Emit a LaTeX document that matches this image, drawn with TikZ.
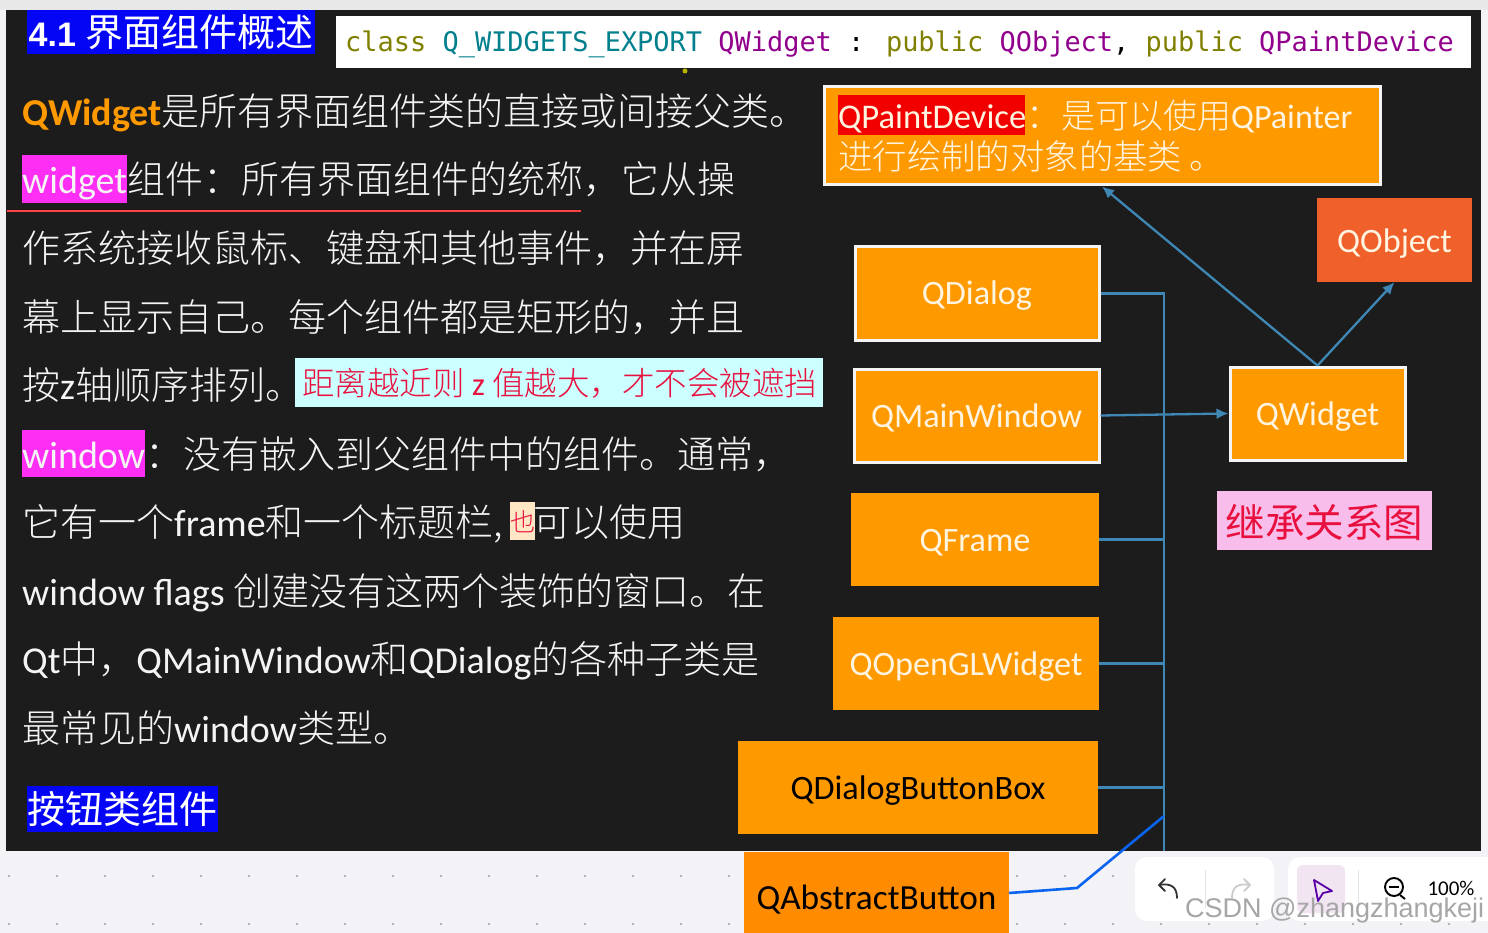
\documentclass[tikz,border=0pt]{standalone}
\usepackage{fontspec}
\setmainfont{Carlito}
\newfontfamily\cjk[UprightFont=* Light,BoldFont=* Bold]{Noto Sans CJK SC}
\newfontfamily\cjkr{Noto Sans CJK SC}
\newfontfamily\codef{DejaVu Sans Mono}
\newfontfamily\headf{Liberation Sans}
\newcommand{\fs}[1]{\fontsize{#1}{#1}\selectfont}
\newcommand{\zh}[1]{{\cjk #1}}
\definecolor{panel}{HTML}{1C1C1C}
\definecolor{orangebox}{HTML}{FF9900}
\definecolor{orangedark}{HTML}{FF8C00}
\definecolor{objbox}{HTML}{F0602B}
\definecolor{linkblue}{HTML}{3F88B5}
\definecolor{vivid}{HTML}{0A64F0}
\definecolor{softw}{HTML}{F4F4F4}
\definecolor{cream}{HTML}{FFF4E0}
\definecolor{crim}{HTML}{E8103E}
\definecolor{magentahl}{HTML}{FF2EF5}
\definecolor{bluehl}{HTML}{0505F5}
\definecolor{olivec}{HTML}{808000}
\definecolor{tealc}{HTML}{007F8C}
\definecolor{purplec}{HTML}{90008C}
\definecolor{pagebg}{HTML}{F3F3F7}
\definecolor{cyanhl}{HTML}{CCFFFF}
\definecolor{peachhl}{HTML}{FFE6C4}
\definecolor{legendbg}{HTML}{F8BDEB}
\tikzset{
  line1/.style={anchor=base west,inner sep=0pt,text=softw,font=\fs{38}},
  boxbase/.style={inner sep=0pt,fill=orangebox,font=\fs{34.2},text height=30pt,text depth=7pt},
  whitebox/.style={boxbase,draw=softw,line width=3pt,text=cream},
  plainbox/.style={boxbase,text=cream},
  blackbox/.style={boxbase,text=black},
  link/.style={draw=linkblue,line width=2.3pt},
  linkarrow/.style={link,-{Latex[length=12pt,width=11pt]}},
  tool/.style={fill=white,rounded corners=12pt,draw=none},
  icon/.style={draw=black!80,line width=1.8pt,line cap=round,line join=round},
}
\usetikzlibrary{arrows.meta}
\begin{document}
\begin{tikzpicture}[x=1pt,y=-1pt]
\useasboundingbox (0,0) rectangle (1488,933);
% page
\fill[pagebg] (0,0) rectangle (1488,933);
\fill[black!9] (0,0) rectangle (1488,10);
\foreach \x in {9,57,...,1488}{\foreach \y in {876,924}{\fill[black!38] (\x,\y) circle (1.1);}}
\fill[panel] (6,10) rectangle (1481,851);
% title and code
\node[fill=bluehl,text=white,inner sep=0pt,minimum width=288pt,minimum height=44pt,font=\fs{37}] (title) at (171,32) {\headf\bfseries\fs{34}4.1 \cjkr\mdseries\fs{38}界面组件概述};
\node[fill=white,inner sep=0pt,minimum width=1135pt,minimum height=52pt] (codebox) at (903.5,42) {};
\node[anchor=base west,inner sep=0pt,font=\codef\fs{26.95}] (code) at (345,52) {\textcolor{olivec}{class} \textcolor{tealc}{Q\_WIDGETS\_EXPORT} \textcolor{purplec}{QWidget} \textcolor{black}{:} \textcolor{olivec}{public} \textcolor{purplec}{QObject}\textcolor{black}{,} \textcolor{olivec}{public} \textcolor{purplec}{QPaintDevice}};
\fill[olive!60!yellow] (685,71) circle (2.5);
% highlights
\fill[magentahl] (22,155) rectangle (127,203);
\fill[magentahl] (22,430) rectangle (145,477);
\fill[cyanhl] (295,358) rectangle (823,407);
\fill[peachhl] (510,502) rectangle (535,540);
\draw[draw=red!65!pink,line width=2.4pt] (7,211) -- (581,211);
% text lines
\node[line1] (t1) at (22,126) {\textcolor{orangebox}{\bfseries QWidget}\zh{是所有界面组件类的直接或间接父类。}};
\node[line1] (t2) at (22,194) {widget\zh{组件：所有界面组件的统称，它从操}};
\node[line1] (t3) at (22,263) {\zh{作系统接收鼠标、键盘和其他事件，并在屏}};
\node[line1] (t4) at (22,331) {\zh{幕上显示自己。每个组件都是矩形的，并且}};
\node[line1] (t5) at (22,399) {\zh{按}z\zh{轴顺序排列。}};
\node[anchor=base west,inner sep=0pt,text=crim,font=\fs{32.5}] (t5b) at (302,395) {\zh{距离越近则} z \zh{值越大，才不会被遮挡}};
\node[line1] (t6) at (22,468) {window\zh{：没有嵌入到父组件中的组件。通常，}};
\node[line1] (t7) at (22,536) {\zh{它有一个}frame\zh{和一个标题栏,}};
\node[anchor=base west,inner sep=0pt,text=crim,font=\fs{25}] (t7b) at (510,531) {\zh{也}};
\node[line1] (t7c) at (533,536) {\zh{可以使用}};
\node[line1] (t8) at (22,605) {window flags \zh{创建没有这两个装饰的窗口。在}};
\node[line1] (t9) at (22,673) {Qt\zh{中，}QMainWindow\zh{和}QDialog\zh{的各种子类是}};
\node[line1] (t10) at (22,742) {\zh{最常见的}window\zh{类型。}};
\node[fill=bluehl,text=white,inner sep=0pt,minimum width=191pt,minimum height=46pt,font=\cjkr\fs{38}] (btn) at (122.5,809) {按钮类组件};
% boxes
\node[whitebox,minimum width=556pt,minimum height=98pt] (qpd) at (1102,136) {};
\fill[red!95!black] (838,95) rectangle (1025,135);
\node[anchor=base west,inner sep=0pt,text=cream,font=\fs{34.6}] (qpdt1) at (838,129) {QPaintDevice\zh{：}};
\node[anchor=base west,inner sep=0pt,text=cream,font=\fs{34}] (qpdt1b) at (1061,129) {\zh{是可以使用}QPainter};
\node[anchor=base west,inner sep=0pt,text=cream,font=\cjk\fs{34.4}] (qpdt2) at (838,170) {进行绘制的对象的基类 。};
\node[whitebox,minimum width=244pt,minimum height=93pt] (qdialog) at (977,293.5) {QDialog};
\node[whitebox,minimum width=245pt,minimum height=93pt] (qmain) at (976.5,415.5) {QMainWindow};
\node[plainbox,minimum width=248pt,minimum height=93pt] (qframe) at (975,539.5) {QFrame};
\node[plainbox,minimum width=266pt,minimum height=93pt] (qgl) at (966,663.5) {QOpenGLWidget};
\node[blackbox,minimum width=360pt,minimum height=93pt] (qdbb) at (918,787.5) {QDialogButtonBox};
\node[blackbox,fill=orangedark,minimum width=265pt,minimum height=81pt,font=\fs{35.3},text height=40pt,text depth=7pt] (qab) at (876.5,892.5) {QAbstractButton};
\node[whitebox,minimum width=175pt,minimum height=93pt] (qwidget) at (1317.5,413.5) {QWidget};
\node[plainbox,fill=objbox,minimum width=155pt,minimum height=84pt,text height=32pt] (qobject) at (1394.5,240) {QObject};
\node[fill=legendbg,text=crim,inner sep=0pt,minimum width=215pt,minimum height=59pt,font=\cjkr\fs{39.5},text height=38pt,text depth=4pt] (legend) at (1324.5,520.5) {继承关系图};
% connectors
\coordinate (trunkend) at (1164,851);
\coordinate (trunktop) at (qdialog.east -| trunkend);
\coordinate (bend) at (1077,888);
\coordinate (hit) at (1164,816);
\draw[link] (qdialog.east) -- (trunktop) -- (trunkend);
\draw[linkarrow] (qmain.east) -- (qwidget.west);
\draw[link] (qframe.east) -- (qframe.east -| trunkend);
\draw[link] (qgl.east) -- (qgl.east -| trunkend);
\draw[link] (qdbb.east) -- (qdbb.east -| trunkend);
\draw[draw=vivid,line width=2.6pt] (qab.east |- 0,893) -- (bend) -- (hit);
\draw[linkarrow] (qwidget.north) -- (qpd.south);
\draw[linkarrow] (qwidget.north) -- (qobject.south);
% toolbar
\fill[tool] (1135,857) rectangle (1274,921);
\fill[tool] (1288,857) rectangle (1500,921);
\draw[black!10] (1205,870) -- (1205,908);
\draw[black!10] (1358,870) -- (1358,908);
\fill[violet!10,rounded corners=6pt] (1297,865) rectangle (1345,913);
\draw[icon] (1177,898) .. controls (1177,886) and (1170,883) .. (1159,885);
\draw[icon] (1165,879) -- (1159,885) -- (1165,891);
\draw[icon,draw=black!20] (1232,898) .. controls (1232,886) and (1239,883) .. (1250,885);
\draw[icon,draw=black!20] (1244,879) -- (1250,885) -- (1244,891);
\draw[draw=violet!70!blue,line width=1.8pt,line join=round] (1314,880) -- (1332,891) -- (1323,893) -- (1318,901) -- cycle;
\draw[black,line width=1.9pt] (1394,887) circle (9);
\draw[black,line width=1.9pt] (1389,887) -- (1399,887);
\draw[black,line width=1.9pt] (1400,895) -- (1405,899);
\node[anchor=center,inner sep=0pt,font=\fs{21}] (zoomv) at (1451,888) {100\%};
\node[anchor=base west,inner sep=0pt,text=black!35,font=\headf\fs{27}] (mark) at (1185,917) {CSDN @zhangzhangkeji};
\end{tikzpicture}
\end{document}
